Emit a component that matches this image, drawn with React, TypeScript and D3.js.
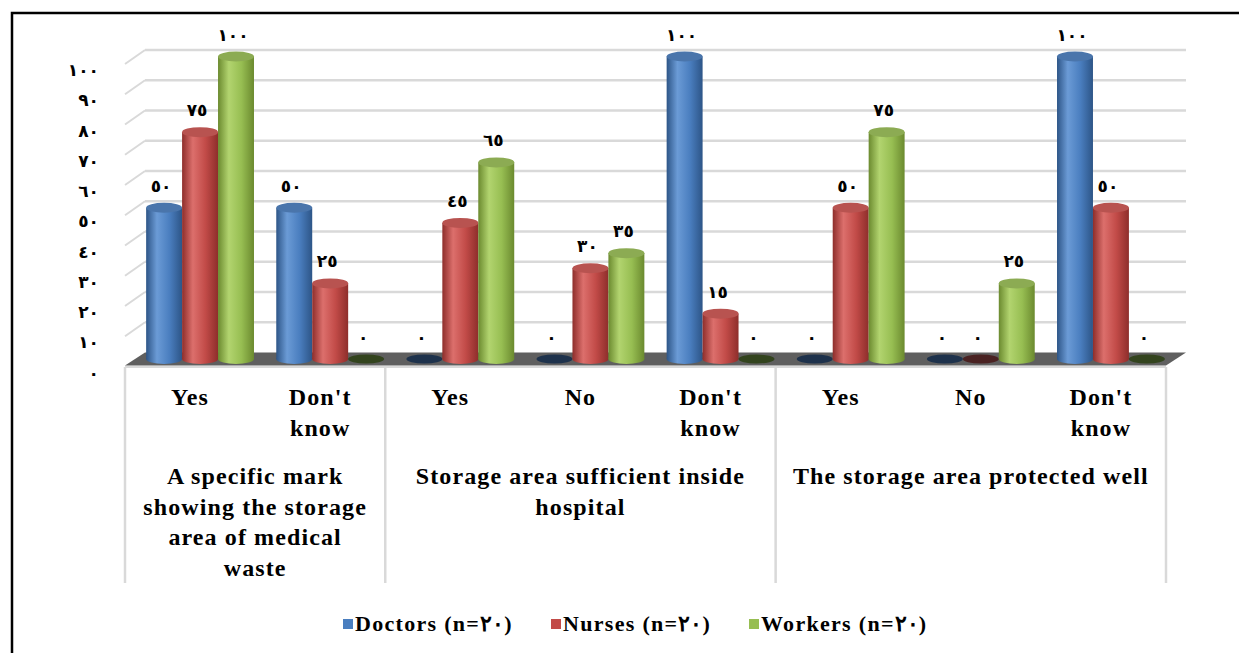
import React from "react";
import * as d3 from "d3";

const categories = ["Yes", "Don't know", "Yes", "No", "Don't know", "Yes", "No", "Don't know"];
const groupLabels = [
  ["A specific mark", "showing the storage", "area of medical", "waste"],
  ["Storage area sufficient inside", "hospital"],
  ["The storage area protected well"],
];
const groupSizes = [2, 3, 3];
const seriesNames = ["Doctors (n=٢٠)", "Nurses (n=٢٠)", "Workers (n=٢٠)"];
const doctors = [50, 50, 0, 0, 100, 0, 0, 100];
const nurses = [75, 25, 45, 30, 15, 50, 0, 50];
const workers = [100, 0, 65, 35, 0, 75, 25, 0];
const yTicks = [0, 10, 20, 30, 40, 50, 60, 70, 80, 90, 100];

const seriesValues = [doctors, nurses, workers];
const colors = [
  { dark: "#2d5587", mid: "#4a7ebf", light: "#6b9bd6", top: "#4a75ab", zero: "#1e324c" },
  { dark: "#8e2e2b", mid: "#c24b48", light: "#dc6f6c", top: "#b85350", zero: "#4a2222" },
  { dark: "#6b8a2f", mid: "#97be52", light: "#b2d46f", top: "#8cab53", zero: "#33441e" },
];

const toArabic = (n: number) => String(n).replace(/\d/g, (d) => "٠١٢٣٤٥٦٧٨٩"[+d]);

const W = 1239;
const H = 653;
const frontLeft = 125;
const frontRight = 1166;
const depthX = 20;
const depthY = 13;
const midX = depthX / 2;
const midY = depthY / 2;

export default function App() {
  const keys = categories.map((c, i) => `${i}`);
  const x = d3.scaleBand<string>().domain(keys).range([frontLeft, frontRight]).padding(0);
  const inner = d3
    .scaleBand<string>()
    .domain(["0", "1", "2"])
    .range([0, x.bandwidth()])
    .paddingInner(0)
    .paddingOuter(0.31);
  const y = d3.scaleLinear().domain([0, 100]).range([352.5, 50]);
  const baseY = y(0) + midY;
  const bw = inner.bandwidth();
  const ry = 5;

  const font = "Liberation Serif, Times New Roman, serif";
  const digitFont = "DejaVu Sans, sans-serif";

  const bounds: number[] = [frontLeft];
  let acc = 0;
  groupSizes.forEach((s) => {
    acc += s;
    bounds.push(x(`${acc - 1}`)! + x.bandwidth());
  });

  return (
    <svg width={W} height={H} style={{ position: "absolute", left: 0, top: 0, background: "#fff" }}>
      <defs>
        {colors.map((c, i) => (
          <linearGradient id={`g${i}`} key={i} x1="0" x2="1" y1="0" y2="0">
            <stop offset="0" stopColor={c.dark} />
            <stop offset="0.3" stopColor={c.light} />
            <stop offset="0.65" stopColor={c.mid} />
            <stop offset="1" stopColor={c.dark} />
          </linearGradient>
        ))}
      </defs>
      <rect x={0} y={0} width={W} height={H} fill="#fff" />
      <path d={`M12,${H + 5} V13 H${W + 5}`} fill="none" stroke="#000" strokeWidth={2.5} />

      {yTicks
        .filter((t) => t > 0)
        .map((t) => (
          <g key={t}>
            <line x1={frontLeft + depthX} x2={frontRight + depthX} y1={y(t)} y2={y(t)} stroke="#d9d9d9" strokeWidth={2.5} />
            <line x1={frontLeft} x2={frontLeft + depthX} y1={y(t) + depthY + 1} y2={y(t)} stroke="#d9d9d9" strokeWidth={2} />
          </g>
        ))}

      {yTicks.map((t) => (
        <text
          key={t}
          x={99}
          y={y(t) + 20}
          textAnchor="end"
          dominantBaseline="central"
          fontFamily={digitFont}
          fontWeight="bold"
          fontSize={17}
          letterSpacing={4}
          fill="#000"
        >
          {toArabic(t)}
        </text>
      ))}

      <polygon
        points={`${frontLeft},${y(0) + depthY} ${frontLeft + depthX},${y(0)} ${frontRight + depthX},${y(0)} ${frontRight},${y(0) + depthY}`}
        fill="#5f5f5f"
      />
      <line x1={frontLeft} x2={frontRight} y1={y(0) + depthY + 1} y2={y(0) + depthY + 1} stroke="#a6a6a6" strokeWidth={1.5} />

      <line x1={frontLeft} x2={frontRight} y1={367} y2={367} stroke="#d9d9d9" strokeWidth={2} />
      {bounds.map((b, i) => (
        <line key={i} x1={b} x2={b} y1={367} y2={583} stroke="#d9d9d9" strokeWidth={2.5} />
      ))}

      {keys.map((k, ci) =>
        seriesValues.map((vals, si) => {
          const v = vals[ci];
          const x0 = x(k)! + inner(`${si}`)! + midX;
          const cx = x0 + bw / 2;
          const c = colors[si];
          const topY = y(v) + midY;
          return (
            <g key={`${ci}-${si}`}>
              {v > 0 ? (
                <>
                  <ellipse cx={cx} cy={baseY} rx={bw / 2} ry={ry} fill={`url(#g${si})`} />
                  <rect x={x0} y={topY} width={bw} height={baseY - topY} fill={`url(#g${si})`} />
                  <ellipse cx={cx} cy={topY} rx={bw / 2} ry={ry} fill={c.top} />
                </>
              ) : (
                <ellipse cx={cx} cy={baseY} rx={bw / 2} ry={4.5} fill={c.zero} />
              )}
              <text
                x={cx - 3}
                y={topY - 22}
                textAnchor="middle"
                dominantBaseline="central"
                fontFamily={digitFont}
                fontWeight="bold"
                fontSize={17}
                letterSpacing={4}
                fill="#000"
              >
                {toArabic(v)}
              </text>
            </g>
          );
        })
      )}

      {keys.map((k, ci) => {
        const lines = categories[ci].includes(" ") ? categories[ci].split(" ") : [categories[ci]];
        return lines.map((ln, li) => (
          <text
            key={`${ci}-${li}`}
            x={x(k)! + x.bandwidth() / 2}
            y={397 + li * 31}
            textAnchor="middle"
            dominantBaseline="central"
            fontFamily={font}
            fontWeight="bold"
            fontSize={24}
            letterSpacing={1.1}
            fill="#000"
          >
            {ln}
          </text>
        ));
      })}

      {groupLabels.map((lines, gi) =>
        lines.map((ln, li) => (
          <text
            key={`${gi}-${li}`}
            x={(bounds[gi] + bounds[gi + 1]) / 2}
            y={476 + li * 30.5}
            textAnchor="middle"
            dominantBaseline="central"
            fontFamily={font}
            fontWeight="bold"
            fontSize={24}
            letterSpacing={1.1}
            fill="#000"
          >
            {ln}
          </text>
        ))
      )}

      {seriesNames.map((s, si) => {
        const lx = [343, 551, 749][si];
        return (
          <g key={s}>
            <rect x={lx} y={619} width={10} height={10} fill={colors[si].mid} />
            <text
              x={lx + 12}
              y={623}
              dominantBaseline="central"
              fontFamily={font}
              fontWeight="bold"
              fontSize={22}
              letterSpacing={1.3}
              fill="#000"
            >
              {s}
            </text>
          </g>
        );
      })}
    </svg>
  );
}
